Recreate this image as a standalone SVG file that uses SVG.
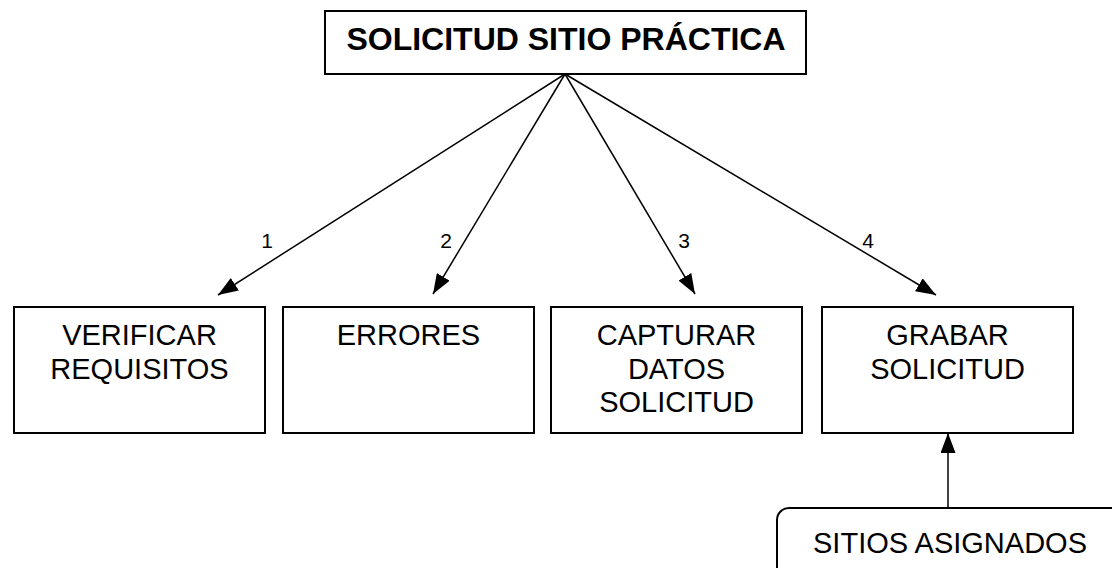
<svg xmlns="http://www.w3.org/2000/svg" width="1112" height="568" viewBox="0 0 1112 568">
<style>
.box{fill:#fff;stroke:#000;stroke-width:2}
.t{font-family:"Liberation Sans",Arial,sans-serif;font-size:29px;fill:#000;text-anchor:middle}
.tb{font-family:"Liberation Sans",Arial,sans-serif;font-size:32px;font-weight:bold;fill:#000;text-anchor:middle}
.lbl{font-family:"Liberation Sans",Arial,sans-serif;font-size:21px;fill:#000;text-anchor:middle}
.c{stroke:#000;stroke-width:1.5;fill:none;marker-end:url(#ah)}
</style>
<defs>
<marker id="ah" viewBox="0 0 20 15" refX="20" refY="7.5" markerWidth="20" markerHeight="15" markerUnits="userSpaceOnUse" orient="auto">
<path d="M0,0 L20,7.5 L0,15 Z" fill="#000"/>
</marker>
</defs>
<rect width="1112" height="568" fill="#fff"/>
<g id="root">
<rect class="box" x="325" y="11" width="481" height="63"/>
<text class="tb" x="566" y="50">SOLICITUD SITIO PRÁCTICA</text>
</g>
<g id="n1">
<rect class="box" x="14" y="307" width="251" height="126"/>
<text class="t" x="139.5" y="345">VERIFICAR</text>
<text class="t" x="139.5" y="378.5">REQUISITOS</text>
</g>
<g id="n2">
<rect class="box" x="283" y="307" width="251" height="126"/>
<text class="t" x="408.5" y="345">ERRORES</text>
</g>
<g id="n3">
<rect class="box" x="551" y="307" width="251" height="126"/>
<text class="t" x="676.5" y="345">CAPTURAR</text>
<text class="t" x="676.5" y="378.5">DATOS</text>
<text class="t" x="676.5" y="412">SOLICITUD</text>
</g>
<g id="n4">
<rect class="box" x="822" y="307" width="251" height="126"/>
<text class="t" x="947.5" y="345">GRABAR</text>
<text class="t" x="947.5" y="378.5">SOLICITUD</text>
</g>
<g id="store">
<rect class="box" x="777" y="508" width="360" height="90" rx="12" ry="12"/>
<text class="t" x="950" y="553">SITIOS ASIGNADOS</text>
</g>
<g id="connectors">
<line class="c" x1="565" y1="74" x2="218" y2="295"/>
<line class="c" x1="565" y1="74" x2="433" y2="294"/>
<line class="c" x1="565" y1="74" x2="695" y2="294"/>
<line class="c" x1="565" y1="74" x2="936" y2="295"/>
<line class="c" x1="948" y1="508" x2="948" y2="433"/>
<text class="lbl" x="267" y="248">1</text>
<text class="lbl" x="446" y="248">2</text>
<text class="lbl" x="684" y="248">3</text>
<text class="lbl" x="868" y="248">4</text>
</g>
</svg>
